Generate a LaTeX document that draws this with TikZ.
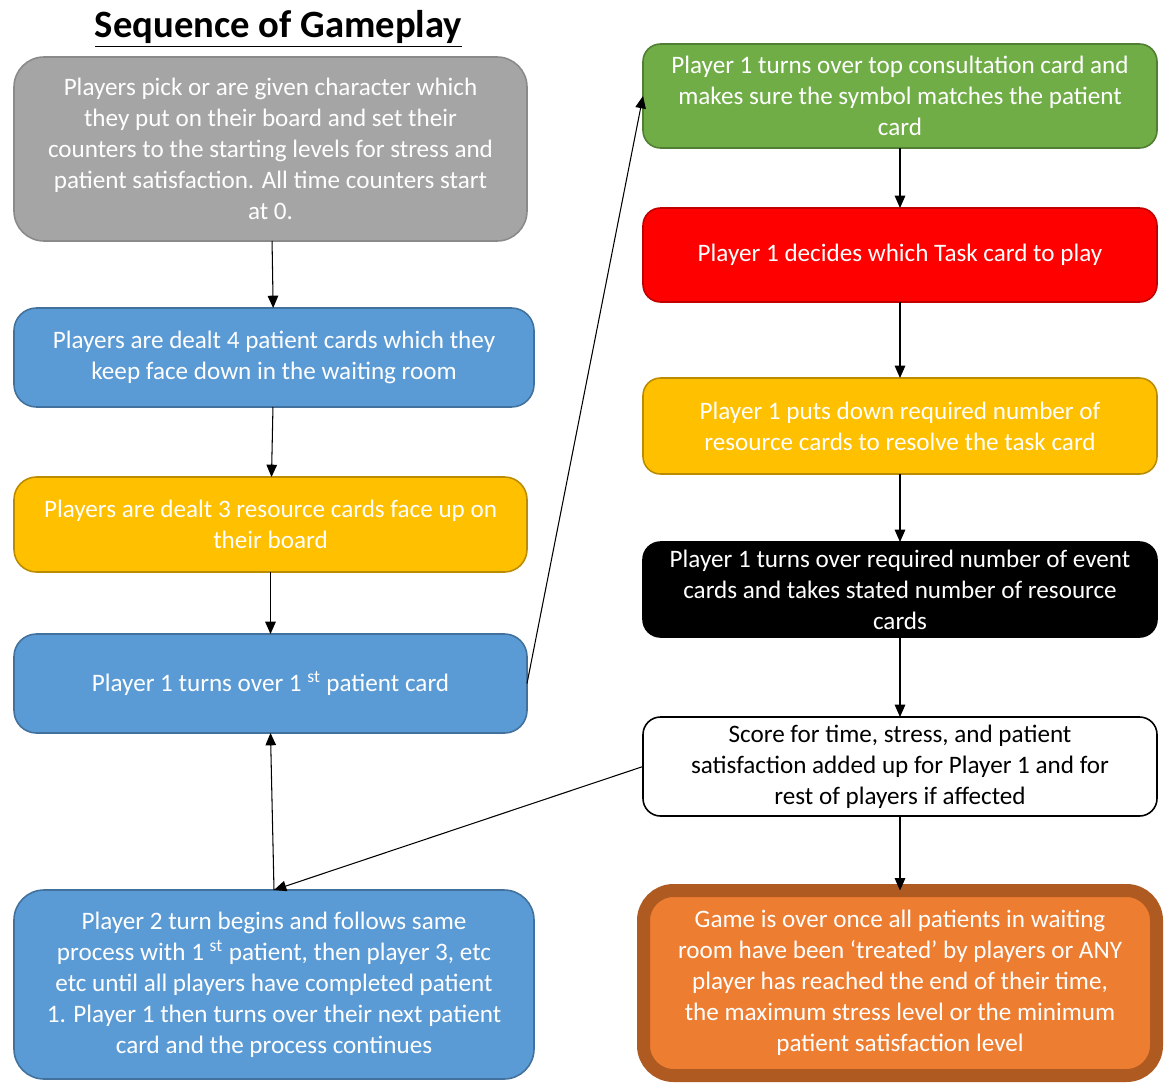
\documentclass[tikz,border=0pt]{standalone}
\usepackage{fontspec}
\setmainfont{Carlito}
\usetikzlibrary{arrows.meta,positioning}
\definecolor{CardGrey}{HTML}{A5A5A5}
\definecolor{CardGreyLine}{HTML}{8A8A8A}
\definecolor{CardBlue}{HTML}{5B9BD5}
\definecolor{CardBlueLine}{HTML}{41719C}
\definecolor{CardGold}{HTML}{FFC000}
\definecolor{CardGoldLine}{HTML}{BC8C00}
\definecolor{CardGreen}{HTML}{70AD47}
\definecolor{CardGreenLine}{HTML}{507E32}
\definecolor{CardRed}{HTML}{FF0000}
\definecolor{CardRedLine}{HTML}{C00000}
\definecolor{CardOrange}{HTML}{ED7D31}
\definecolor{CardOrangeLine}{HTML}{AE5A21}

\begin{document}
\begin{tikzpicture}[node distance=1.3cm,>={Triangle[width=6pt,length=7pt]}]
\tikzstyle{card}=[draw,line width=0.9pt,rounded corners=0.45cm,outer sep=0pt,align=center,text=white,font=\fontsize{14.3}{17.6}\selectfont]
\tikzstyle{leftcard}=[card,minimum width=10.26cm]
\tikzstyle{rightcard}=[card,minimum width=10.28cm]
\tikzstyle{flow}=[->,line width=0.6pt]
\useasboundingbox (0,0) rectangle (23.3,-21.68);
\node[font=\bfseries\fontsize{22}{26}\selectfont] (title) at (5.57,-0.58) {\underline{Sequence of Gameplay}};
% left column
\node[leftcard,fill=CardGrey,draw=CardGreyLine,minimum height=3.68cm,rounded corners=0.6cm] (setup) at (5.41,-2.98) {Players pick or are given character which\\they put on their board and set their\\counters to the starting levels for stress and\\patient satisfaction. All time counters start\\at 0.};
\node[leftcard,fill=CardBlue,draw=CardBlueLine,minimum width=10.4cm,minimum height=1.98cm,below=1.34cm of setup,xshift=0.07cm] (deal) {Players are dealt 4 patient cards which they\\keep face down in the waiting room};
\node[leftcard,fill=CardGold,draw=CardGoldLine,minimum height=1.9cm,below=1.4cm of deal,xshift=-0.07cm] (resource) {Players are dealt 3 resource cards face up on\\their board};
\node[leftcard,fill=CardBlue,draw=CardBlueLine,minimum height=1.98cm,below=1.24cm of resource] (first) {Player 1 turns over 1 \textsuperscript{st} patient card};
\node[leftcard,fill=CardBlue,draw=CardBlueLine,minimum width=10.4cm,minimum height=3.78cm,rounded corners=0.6cm,below=3.14cm of first,xshift=0.07cm] (next) {Player 2 turn begins and follows same\\process with 1 \textsuperscript{st} patient, then player 3, etc\\etc until all players have completed patient\\1. Player 1 then turns over their next patient\\card and the process continues};
% right column
\node[rightcard,fill=CardGreen,draw=CardGreenLine,minimum height=2.08cm,rounded corners=0.35cm] (consult) at (18.0,-1.92) {Player 1 turns over top consultation card and\\makes sure the symbol matches the patient\\card};
\node[rightcard,fill=CardRed,draw=CardRedLine,minimum height=1.88cm,rounded corners=0.35cm,below=1.2cm of consult] (task) {Player 1 decides which Task card to play};
\node[rightcard,fill=CardGold,draw=CardGoldLine,minimum height=1.92cm,rounded corners=0.35cm,below=1.52cm of task] (resolve) {Player 1 puts down required number of\\resource cards to resolve the task card};
\node[rightcard,fill=black,draw=black,minimum height=1.9cm,rounded corners=0.35cm,below=1.36cm of resolve] (event) {Player 1 turns over required number of event\\cards and takes stated number of resource\\cards};
\node[rightcard,fill=white,draw=black,text=black,minimum height=1.98cm,rounded corners=0.35cm,below=1.6cm of event] (score) {Score for time, stress, and patient\\satisfaction added up for Player 1 and for\\rest of players if affected};
\node[card,fill=CardOrange,draw=CardOrangeLine,line width=7.4pt,minimum width=10.26cm,minimum height=3.7cm,rounded corners=0.6cm,below=1.49cm of score] (over) {Game is over once all patients in waiting\\room have been ‘treated’ by players or ANY\\player has reached the end of their time,\\the maximum stress level or the minimum\\patient satisfaction level};
% connectors
\draw[flow] (setup) -- (deal);
\draw[flow] (deal) -- (resource);
\draw[flow] (resource) -- (first);
\draw[flow] (first.east) -- (consult.west);
\draw[flow] (consult) -- (task);
\draw[flow] (task) -- (resolve);
\draw[flow] (resolve) -- (event);
\draw[flow] (event) -- (score);
\draw[flow] (score) -- (over);
\draw[flow] (score.west) -- (next.north);
\draw[flow] (next.north) -- (first.south);
\end{tikzpicture}
\end{document}
